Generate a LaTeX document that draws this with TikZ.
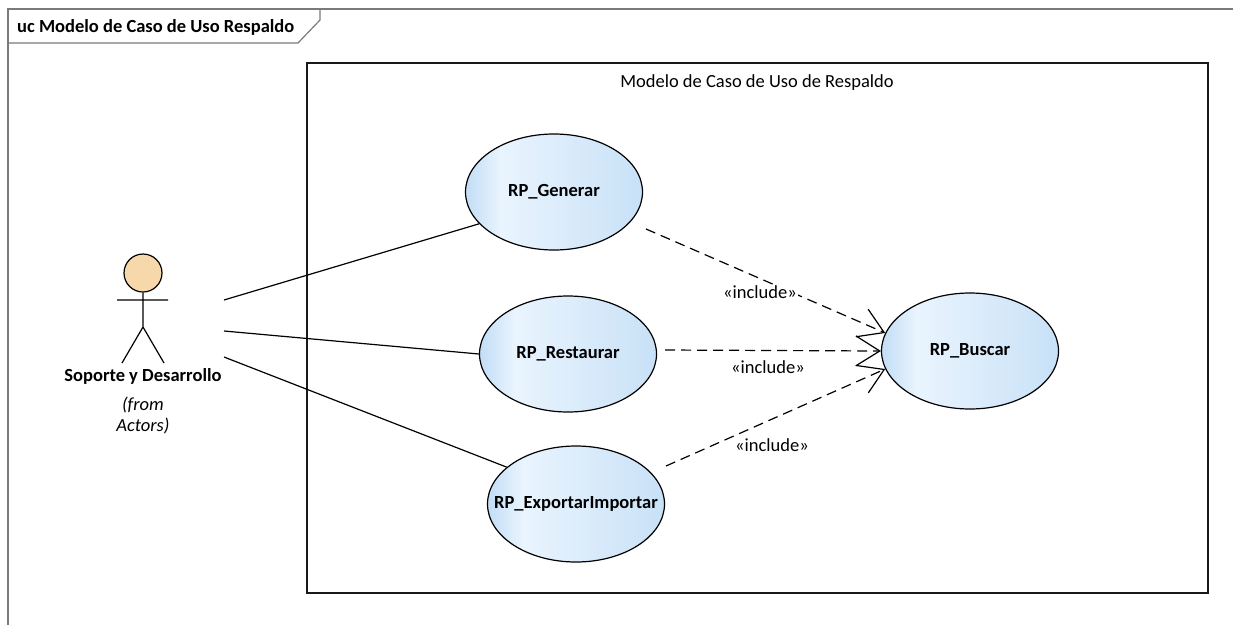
\documentclass[tikz,border=0pt]{standalone}
\usepackage{fontspec}
\setmainfont{Carlito}
\usetikzlibrary{arrows.meta,shapes.geometric}
\definecolor{ucEdge}{HTML}{C2DDF6}
\definecolor{ucLight}{HTML}{E9F4FE}
\definecolor{ucMid}{HTML}{DDEDFB}
\definecolor{ucRight}{HTML}{C8E1F7}
\definecolor{actorFill}{HTML}{F6D8AA}
\definecolor{frameGrey}{HTML}{7A7A7A}
\pgfdeclarehorizontalshading{usecaseshade}{100bp}{%
  color(0bp)=(ucEdge); color(25bp)=(ucEdge); color(35bp)=(ucLight);
  color(50bp)=(ucMid); color(75bp)=(ucRight); color(100bp)=(ucRight)}
\newcommand\ucfont{\fontsize{18.5pt}{22pt}\selectfont}
\tikzset{
  usecase/.style={ellipse, draw=black, line width=1.2pt, shading=usecaseshade,
    minimum width=177pt, minimum height=116pt, inner sep=0pt,
    font=\ucfont\bfseries},
  assoc/.style={draw=black, line width=1.2pt},
  incl/.style={draw=black, line width=1.2pt, dash pattern=on 10pt off 6pt,
    -{Straight Barb[length=24pt,width=30pt,line width=1.2pt]}},
  lbl/.style={font=\ucfont, inner sep=0pt},
}
\begin{document}
\begin{tikzpicture}[x=1pt,y=-1pt]
\useasboundingbox (0,0) rectangle (1233,624);
% diagram frame and its name tab
\draw[frameGrey, line width=1.5pt] (8,630) -- (8,9) -- (1240,9);
\draw[frameGrey, line width=1.2pt] (8,43) -- (298,43) -- (320,20) -- (320,9);
\node[anchor=west, font=\ucfont\bfseries, inner sep=0pt]
  (frametitle) at (17,27) {uc Modelo de Caso de Uso Respaldo};
% system boundary
\draw[black!90, line width=1.6pt] (307,63) rectangle (1208,593);
\node[lbl] (boundary) at (757,83) {Modelo de Caso de Uso de Respaldo};
% actor
\node[circle, draw=black, line width=1.2pt, fill=actorFill, minimum size=38pt, inner sep=0pt]
  (head) at (143,273) {};
\coordinate (hip) at (143,327);
\coordinate (armL) at (117,300);
\coordinate (armR) at (168,300);
\coordinate (legL) at (122,363);
\coordinate (legR) at (164,363);
\draw[line width=1.2pt] (head.south) -- (hip) (armL) -- (armR) (legL) -- (hip) -- (legR);
\node[font=\ucfont\bfseries, inner sep=0pt] (actorname) at (143,376) {Soporte y Desarrollo};
\node[font=\ucfont\itshape, inner sep=0pt] (actorpkg1) at (143,405) {(from};
\node[font=\ucfont\itshape, inner sep=0pt] (actorpkg2) at (143,426) {Actors)};
% use cases (fixed size, the name may reach the outline)
\node[usecase] (gen) at (554,192) {\makebox[0pt]{RP\_Generar}};
\node[usecase] (res) at (568,354) {\makebox[0pt]{RP\_Restaurar}};
\node[usecase] (exp) at (576,504) {\makebox[0pt]{RP\_ExportarImportar}};
\node[usecase] (bus) at (970,351) {\makebox[0pt]{RP\_Buscar}};
% associations
\coordinate (a1) at (224,300);
\coordinate (a2) at (224,331);
\coordinate (a3) at (224,357);
\draw[assoc] (a1) -- (gen.203);
\draw[assoc] (a2) -- (res.west);
\draw[assoc] (a3) -- (exp.152);
% include relationships
\coordinate (g1) at (646,229);
\coordinate (r1) at (665,350);
\coordinate (e1) at (666,466);
\draw[incl] (g1) -- (bus.168);
\draw[incl] (r1) -- (bus.west);
\draw[incl] (e1) -- (bus.192);
\node[lbl, fill=white, inner xsep=1pt] (l1) at (760,292) {«include»};
\node[lbl] (l2) at (768,367) {«include»};
\node[lbl, fill=white, inner xsep=1pt] (l3) at (772,445) {«include»};
\end{tikzpicture}
\end{document}
